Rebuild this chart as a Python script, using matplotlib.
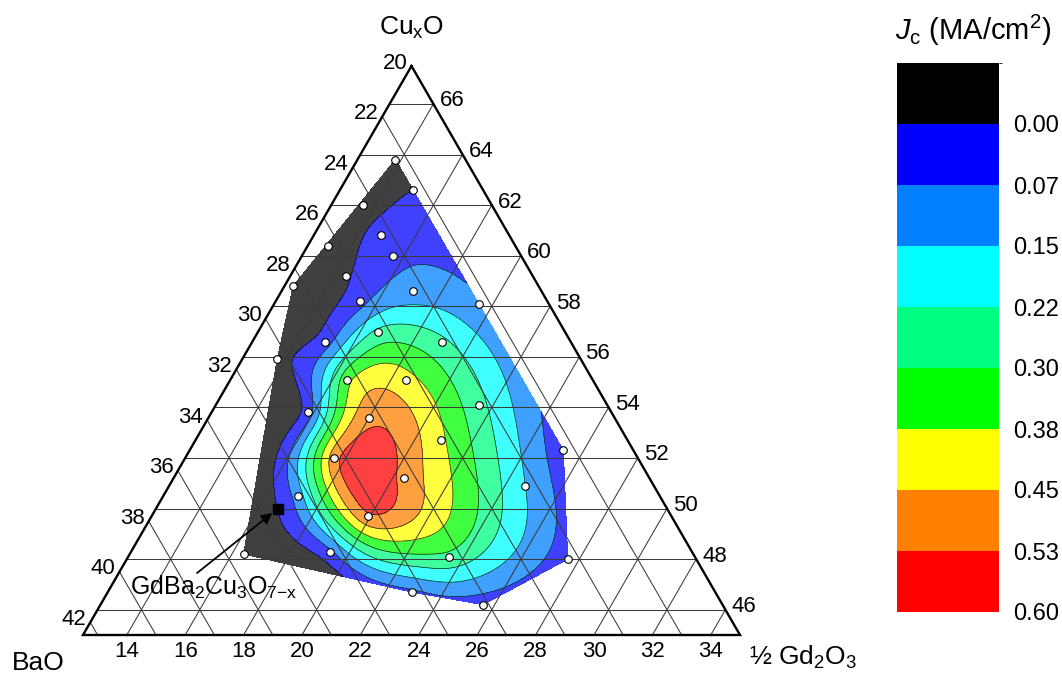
import numpy as np
import matplotlib
matplotlib.use('Agg')
import matplotlib.pyplot as plt
import matplotlib.tri as mtri
from matplotlib.colors import ListedColormap, BoundaryNorm
from matplotlib.cm import ScalarMappable

plt.rcParams['font.family'] = ['Liberation Sans', 'DejaVu Sans']
plt.rcParams['mathtext.fontset'] = 'custom'
plt.rcParams['mathtext.rm'] = 'Liberation Sans'
plt.rcParams['mathtext.it'] = 'Liberation Sans:italic'
plt.rcParams['mathtext.bf'] = 'Liberation Sans:bold'

# sample compositions (mol %): CuxO, BaO, 1/2 Gd2O3 and measured Jc (MA/cm2)
cu = [63.8, 62.6, 62.0, 60.8, 60.4, 60.0, 59.2, 58.8, 58.6, 58.2, 57.0,
      56.6, 56.6, 55.9, 55.1, 55.1, 58.1, 54.1, 53.8, 53.6, 52.7, 52.0,
      52.3, 51.2, 50.9, 50.5, 49.7, 48.2, 48.3, 48.1, 48.0, 46.7, 46.2]
ba = [22.4, 22.4, 24.4, 24.4, 26.4, 24.4, 26.4, 28.4, 24.4, 26.4, 26.4,
      28.4, 24.4, 30.4, 28.4, 26.4, 22.4, 24.4, 30.4, 28.4, 26.4, 30.4,
      22.4, 28.4, 24.4, 32.4, 30.4, 35.4, 32.4, 28.4, 24.4, 30.4, 28.2]
gd = [13.8, 15.0, 13.6, 14.8, 13.2, 15.6, 14.4, 12.8, 17.0, 15.4, 16.6,
      15.0, 19.0, 13.7, 16.5, 18.5, 19.5, 21.5, 15.8, 18.0, 20.9, 17.6,
      25.3, 20.4, 24.7, 17.1, 19.9, 16.4, 19.3, 23.5, 27.6, 22.9, 25.6]
jc = [-0.06, 0.00, -0.06, 0.04, -0.07, 0.06, -0.01, -0.07, 0.11, 0.05, 0.24,
      0.04, 0.24, -0.02, 0.35, 0.40, 0.09, 0.25, 0.04, 0.50, 0.39, 0.49,
      0.03, 0.50, 0.15, 0.11, 0.51, -0.06, 0.06, 0.28, 0.03, 0.06, 0.03]

# GdBa2Cu3O7-x (123) composition
cu_123, ba_123, gd_123 = 50.0, 33.33, 16.67

levels = [-0.075, 0.0, 0.075, 0.15, 0.225, 0.30, 0.375, 0.45, 0.525, 0.60]
level_labels = ['0.00', '0.07', '0.15', '0.22', '0.30', '0.38', '0.45', '0.53', '0.60']
band_colors = ['#000000', '#0000ff', '#0080ff', '#00ffff', '#00ff80',
               '#00ff00', '#ffff00', '#ff8000', '#ff0000']

# window of the ternary shown
cu_min, ba_min, gd_min = 45.0, 20.0, 12.5
span = 22.5
left_ticks = list(range(20, 43, 2))    # BaO
right_ticks = list(range(46, 67, 2))   # CuxO
bottom_ticks = list(range(14, 35, 2))  # 1/2 Gd2O3


def tern(c, g):
    c = np.asarray(c, float)
    g = np.asarray(g, float)
    h = c - cu_min
    return (g - gd_min) + h / 2.0, h * np.sqrt(3) / 2.0


def tps_kernel(ax_, ay_, bx_, by_):
    d2 = (ax_[:, None] - bx_[None, :]) ** 2 + (ay_[:, None] - by_[None, :]) ** 2
    return np.where(d2 > 0, 0.5 * d2 * np.log(np.where(d2 > 0, d2, 1.0)), 0.0)


def tps_surface(px, py, pz, qx, qy):
    # thin plate spline through the samples, like the gridding used for the map
    n = len(px)
    P = np.column_stack([np.ones(n), px, py])
    A = np.zeros((n + 3, n + 3))
    A[:n, :n] = tps_kernel(px, py, px, py)
    A[:n, n:] = P
    A[n:, :n] = P.T
    sol = np.linalg.solve(A, np.concatenate([pz, np.zeros(3)]))
    w, a = sol[:n], sol[n:]
    return tps_kernel(qx, qy, px, py) @ w + a[0] + a[1] * qx + a[2] * qy


W, H = 1062, 679
scale = 29.2          # pixels per mol %
x0, y0 = 83, 635      # pixel position of the BaO corner

fig = plt.figure(figsize=(W / 100, H / 100), dpi=100)
ax = fig.add_axes([0, 0, 1, 1])
ax.set_xlim(-x0 / scale, (W - x0) / scale)
ax.set_ylim(-(H - y0) / scale, y0 / scale)
ax.axis('off')

# contour field
x, y = tern(cu, gd)
tri = mtri.Triangulation(x, y)
tri_f = mtri.UniformTriRefiner(tri).refine_triangulation(subdiv=5)
z_f = tps_surface(x, y, np.asarray(jc), tri_f.x, tri_f.y)
z_f = np.clip(z_f, levels[0] + 1e-4, levels[-1] - 1e-4)
ax.tricontourf(tri_f, z_f, levels=levels, colors=band_colors, alpha=0.75, zorder=1)
ax.tricontour(tri_f, z_f, levels=levels[1:-1], colors='#202020', linewidths=0.5, zorder=2)

# grid
gc, glw = '#3a3a3a', 0.75
for v in right_ticks:   # constant CuxO
    xa, ya = tern([v, v], [gd_min, 100 - ba_min - v])
    ax.plot(xa, ya, color=gc, lw=glw, zorder=3)
for v in left_ticks[1:]:  # constant BaO
    xa, ya = tern([100 - v - gd_min, cu_min], [gd_min, 100 - v - cu_min])
    ax.plot(xa, ya, color=gc, lw=glw, zorder=3)
for v in bottom_ticks:  # constant Gd
    xa, ya = tern([cu_min, 100 - ba_min - v], [v, v])
    ax.plot(xa, ya, color=gc, lw=glw, zorder=3)

# frame
xa, ya = tern([cu_min + span, cu_min, cu_min, cu_min + span],
              [gd_min, gd_min, gd_min + span, gd_min])
ax.plot(xa, ya, color='k', lw=1.7, solid_joinstyle='miter', zorder=4)

# tick labels
fs = 16
for v in left_ticks:
    ax.annotate(str(v), tern(100 - v - gd_min, gd_min), xytext=(-4, 3),
                textcoords='offset pixels', ha='right', va='center', fontsize=fs)
for v in right_ticks:
    ax.annotate(str(v), tern(v, 100 - ba_min - v), xytext=(6, 3),
                textcoords='offset pixels', ha='left', va='center', fontsize=fs)
for v in bottom_ticks:
    ax.annotate(str(v), tern(cu_min, v), xytext=(0, -6),
                textcoords='offset pixels', ha='center', va='top', fontsize=fs)

# corner titles
ax.annotate(r'Cu$_\mathrm{x}$O', tern(cu_min + span, gd_min), xytext=(0, 31),
            textcoords='offset pixels', ha='center', va='baseline', fontsize=19)
ax.annotate('BaO', tern(cu_min, gd_min), xytext=(-71, -35),
            textcoords='offset pixels', ha='left', va='baseline', fontsize=19)
ax.annotate(r'½ Gd$_2$O$_3$', tern(cu_min, gd_min + span), xytext=(9, -30),
            textcoords='offset pixels', ha='left', va='baseline', fontsize=19)

# samples
ax.plot(x, y, 'o', ms=5.5, mfc='white', mec='k', mew=0.8, zorder=6)

# 123 phase
sx, sy = tern(cu_123, gd_123)
ax.plot(sx, sy, 's', ms=7.5, color='k', zorder=7)
ax.annotate('', xy=(sx, sy), xytext=tern(47.45, 15.18),
            arrowprops=dict(arrowstyle='-|>', color='k', lw=1.3,
                            mutation_scale=16, shrinkA=0, shrinkB=5), zorder=7)
ax.text(*tern(46.58, 13.32), r'GdBa$_2$Cu$_3$O$_{7\mathrm{-x}}$', fontsize=18,
        ha='left', va='baseline', zorder=7)

# colour scale
cmap = ListedColormap(band_colors)
norm = BoundaryNorm(levels, cmap.N)
cax = fig.add_axes([897 / W, 1 - 612 / H, 102 / W, 549 / H])
cb = fig.colorbar(ScalarMappable(norm=norm, cmap=cmap), cax=cax, ticks=levels[1:])
cax.invert_yaxis()
cb.set_ticklabels(level_labels)
cb.outline.set_visible(False)
cax.tick_params(length=0, pad=10, labelsize=17)
fig.text(895 / W, 1 - 40 / H, r'$J_\mathrm{c}$ (MA/cm$^2$)', fontsize=21,
         ha='left', va='baseline')

fig.savefig('out.png', dpi=100)
